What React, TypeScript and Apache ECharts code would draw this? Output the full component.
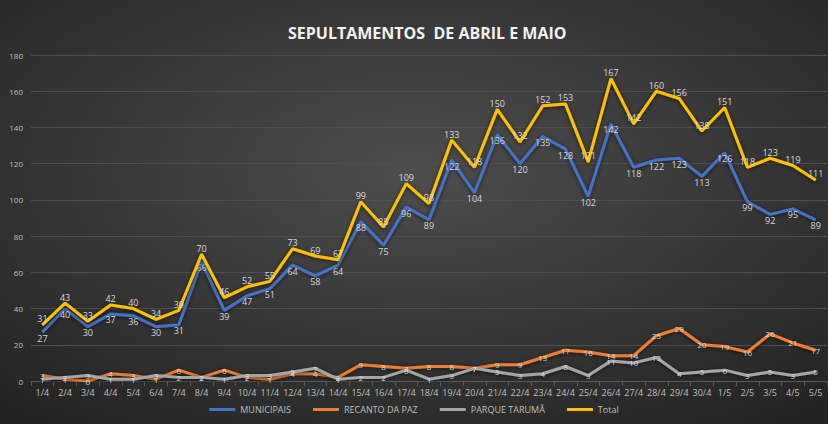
import React, { useEffect, useRef } from "react";
import * as echarts from "echarts";

const categories = [
  "1/4","2/4","3/4","4/4","5/4","6/4","7/4","8/4","9/4","10/4",
  "11/4","12/4","13/4","14/4","15/4","16/4","17/4","18/4","19/4","20/4",
  "21/4","22/4","23/4","24/4","25/4","26/4","27/4","28/4","29/4","30/4",
  "1/5","2/5","3/5","4/5","5/5",
];
const municipais = [27,40,30,37,36,30,31,66,39,47,51,64,58,64,88,75,96,89,122,104,136,120,135,128,102,142,118,122,123,113,126,99,92,95,89];
const recantoDaPaz = [3,1,0,4,3,1,6,2,6,2,1,4,4,2,9,8,7,8,8,7,9,9,13,17,16,14,14,25,29,20,19,16,26,21,17];
const parqueTaruma = [1,2,3,1,1,3,2,2,1,3,3,5,7,1,2,2,6,1,3,7,5,3,4,8,3,11,10,13,4,5,6,3,5,3,5];
const total = [31,43,33,42,40,34,39,70,46,52,55,73,69,67,99,85,109,98,133,118,150,132,152,153,121,167,142,160,156,138,151,118,123,119,111];
const yTicks = { min: 0, max: 180, interval: 20 };

export default function App() {
  const ref = useRef<HTMLDivElement>(null);
  useEffect(() => {
    document.body.style.margin = "0";
    if (!ref.current) return;
    const chart = echarts.init(ref.current, null, { renderer: "svg" });
    const font = "Open Sans, DejaVu Sans, sans-serif";
    const mk = (name: string, data: number[], color: string, pos: string, z: number, fs: number) => ({
      name,
      type: "line",
      data,
      symbol: "circle",
      symbolSize: 1,
      showSymbol: true,
      z,
      lineStyle: {
        color,
        width: 3,
        shadowColor: "rgba(0,0,0,0.6)",
        shadowBlur: 4,
        shadowOffsetY: 1,
      },
      itemStyle: { color },
      label: {
        show: true,
        color: "#d9d9d9",
        fontSize: fs,
        fontFamily: font,
        position: pos,
        distance: 1,
      },
    });
    chart.setOption({
      animation: false,
      backgroundColor: {
        type: "radial",
        x: 0.5,
        y: 0.4,
        r: 0.75,
        colorStops: [
          { offset: 0, color: "#4d4d4d" },
          { offset: 1, color: "#232323" },
        ],
      },
      title: {
        text: "SEPULTAMENTOS  DE ABRIL E MAIO",
        left: 283,
        top: 20,
        textStyle: {
          color: "#f2f2f2",
          fontSize: 16,
          fontWeight: "bold",
          fontFamily: font,
        },
      },
      legend: {
        bottom: 5,
        left: "center",
        itemWidth: 26,
        itemHeight: 3,
        itemGap: 22,
        icon: "rect",
        textStyle: { color: "#bfbfbf", fontSize: 9, fontFamily: font },
        data: ["MUNICIPAIS", "RECANTO DA PAZ", "PARQUE TARUMÃ", "Total"],
      },
      grid: { left: 31, right: 1, top: 55, bottom: 43 },
      xAxis: {
        type: "category",
        data: categories,
        boundaryGap: true,
        axisLine: { lineStyle: { color: "#595959" } },
        axisTick: { show: true, lineStyle: { color: "#595959" } },
        axisLabel: { color: "#bfbfbf", fontSize: 9, fontFamily: font, interval: 0, margin: 7 },
      },
      yAxis: {
        type: "value",
        min: yTicks.min,
        max: yTicks.max,
        interval: yTicks.interval,
        axisLine: { show: false },
        axisTick: { show: false },
        axisLabel: { color: "#bfbfbf", fontSize: 8, fontFamily: font, margin: 8 },
        splitLine: { lineStyle: { color: "#4f4f4f", width: 1 } },
      },
      series: [
        mk("MUNICIPAIS", municipais, "#4472C4", "bottom", 3, 9),
        mk("RECANTO DA PAZ", recantoDaPaz, "#ED7D31", "inside", 2, 8),
        mk("PARQUE TARUMÃ", parqueTaruma, "#A5A5A5", "inside", 2, 8),
        mk("Total", total, "#FFC000", "top", 4, 9),
      ],
    });
    return () => chart.dispose();
  }, []);
  return <div ref={ref} style={{ width: 828, height: 424 }} />;
}
